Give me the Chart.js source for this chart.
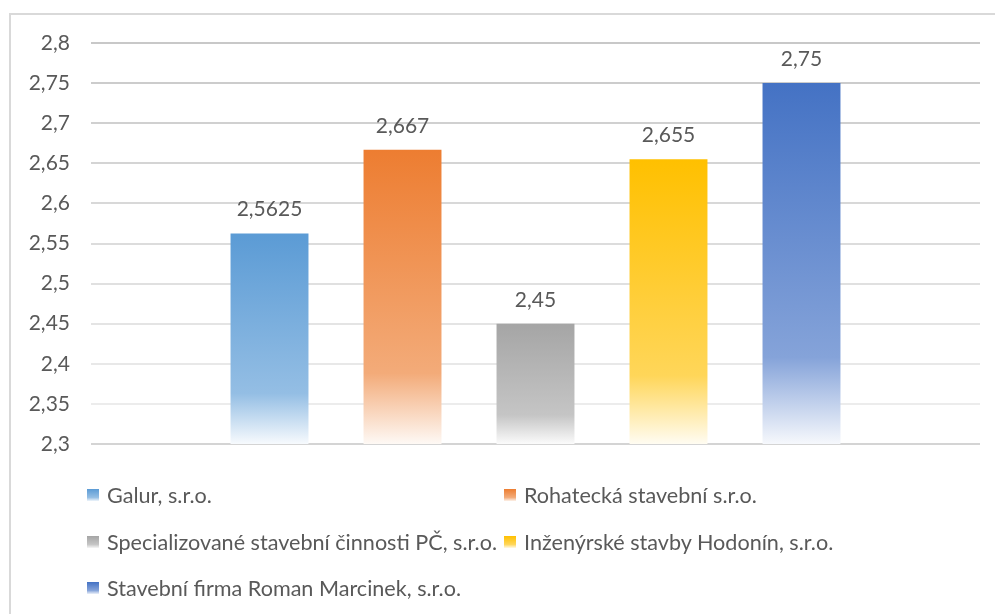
<!DOCTYPE html>
<html>
<head>
<meta charset="utf-8">
<script src="https://cdn.jsdelivr.net/npm/chart.js@4"></script>
<style>
  body { margin: 0; background: #fff; font-family: Lato, sans-serif; }
  #wrap { position: relative; width: 995px; height: 614px; overflow: hidden; }
  #frame { position: absolute; left: 9px; top: 13px; width: 1000px; height: 700px;
           border-left: 2px solid #d9d9d9; border-top: 2px solid #d9d9d9; }
  #chart { position: absolute; left: 0; top: 0; }
  #legend { position: absolute; left: 87px; top: 472px; display: grid;
            grid-template-columns: 417px auto; grid-auto-rows: 46.5px;
            font-size: 21.6px; color: #595959; }
  .item { display: flex; align-items: center; white-space: nowrap; }
  .box { width: 12px; height: 12px; margin-right: 8px; }
</style>
</head>
<body>
<div id="wrap">
  <div id="frame"></div>
  <canvas id="chart" width="995" height="614"></canvas>
  <div id="legend"></div>
</div>
<script>
// Firms and their values
let firms = [
  'Galur, s.r.o.',
  'Rohatecká stavební s.r.o.',
  'Specializované stavební činnosti PČ, s.r.o.',
  'Inženýrské stavby Hodonín, s.r.o.',
  'Stavební firma Roman Marcinek, s.r.o.'
];
let scores = [2.5625, 2.667, 2.45, 2.655, 2.75];
let colors = ['#5b9bd5', '#ed7d31', '#a5a5a5', '#ffc000', '#4472c4'];
let yMin = 2.3, yMax = 2.8, yStep = 0.05;

function czech(v) {
  return String(Math.round(v * 10000) / 10000).replace('.', ',');
}

// mix a hex colour with white, t = share of white
function tint(hex, t) {
  let r = parseInt(hex.slice(1, 3), 16), g = parseInt(hex.slice(3, 5), 16), b = parseInt(hex.slice(5, 7), 16);
  let m = c => Math.round(c + (255 - c) * t);
  return 'rgb(' + m(r) + ',' + m(g) + ',' + m(b) + ')';
}

function barFill(context) {
  let chart = context.chart;
  let color = colors[context.datasetIndex];
  if (!chart.chartArea) return color;
  let y = chart.scales.y;
  let top = y.getPixelForValue(scores[context.datasetIndex]);
  let bottom = y.getPixelForValue(yMin);
  let grad = chart.ctx.createLinearGradient(0, top, 0, bottom);
  grad.addColorStop(0, color);
  grad.addColorStop(0.76, tint(color, 0.35));
  grad.addColorStop(1, tint(color, 0.95));
  return grad;
}

// value labels above bars
const valueLabels = {
  id: 'valueLabels',
  afterDatasetsDraw(chart) {
    let ctx = chart.ctx;
    ctx.save();
    ctx.font = '21px Lato';
    ctx.fillStyle = '#595959';
    ctx.textAlign = 'center';
    ctx.textBaseline = 'alphabetic';
    chart.data.datasets.forEach((ds, i) => {
      let bar = chart.getDatasetMeta(i).data[0];
      ctx.fillText(czech(ds.data[0]), bar.x, bar.y - 17);
    });
    ctx.restore();
  }
};

let ctx = document.getElementById('chart').getContext('2d');
let chart = new Chart(ctx, {
  type: 'bar',
  data: {
    labels: [''],
    datasets: firms.map((f, i) => ({
      label: f,
      data: [scores[i]],
      backgroundColor: barFill,
      borderWidth: 0,
      barPercentage: 0.586,
      categoryPercentage: 0.748
    }))
  },
  options: {
    responsive: false,
    animation: false,
    layout: { padding: { top: 43, right: 15, bottom: 170, left: 0 } },
    plugins: { legend: { display: false }, tooltip: { enabled: false } },
    scales: {
      x: { display: false },
      y: {
        min: yMin,
        max: yMax,
        afterFit: s => { s.width = 91; },
        border: { display: false },
        grid: {
          drawTicks: false,
          lineWidth: 2,
          color: c => {
            if (c.index === 0) return '#d4d4d4';
            let shade = 200 + (10 - c.index) * 4;
            return 'rgb(' + shade + ',' + shade + ',' + shade + ')';
          }
        },
        ticks: {
          stepSize: yStep,
          padding: 21,
          color: '#595959',
          font: { family: 'Lato', size: 21 },
          callback: v => czech(Math.round(v * 100) / 100)
        }
      }
    }
  },
  plugins: [valueLabels]
});

// legend in two columns
let legend = document.getElementById('legend');
firms.forEach((f, i) => {
  let item = document.createElement('div');
  item.className = 'item';
  let box = document.createElement('span');
  box.className = 'box';
  box.style.background = 'linear-gradient(' + colors[i] + ' 0%, ' + tint(colors[i], 0.35) + ' 70%, ' + tint(colors[i], 0.9) + ' 100%)';
  item.appendChild(box);
  item.appendChild(document.createTextNode(f));
  legend.appendChild(item);
});
</script>
</body>
</html>
